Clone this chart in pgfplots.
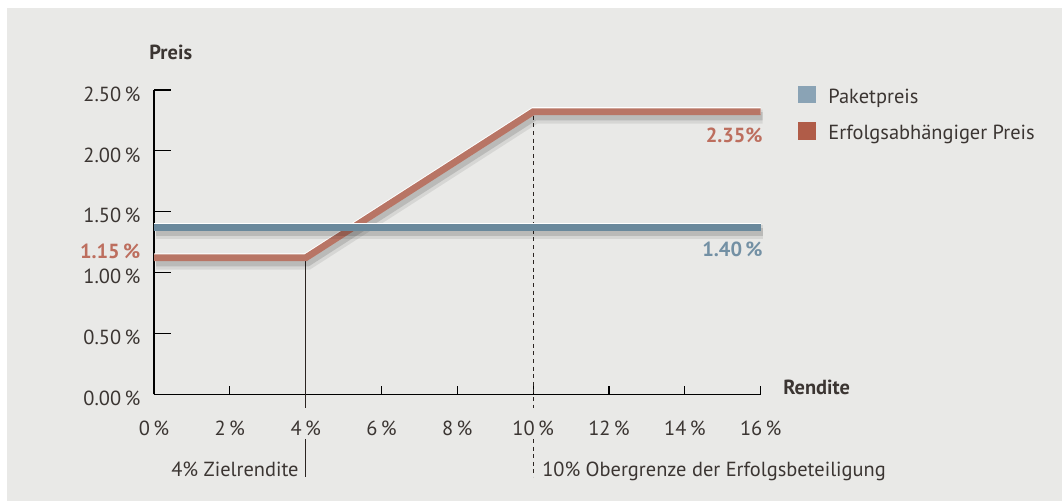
\documentclass[border=0pt]{standalone}
\usepackage{fontspec}
\setmainfont{PT Sans}
\usepackage{pgfplots}
\pgfplotsset{compat=1.18}
\definecolor{panel}{HTML}{E9E9E7}
\definecolor{bluel}{HTML}{6A899C}
\definecolor{redl}{HTML}{B87565}
\definecolor{bluelg}{HTML}{8AA3B5}
\definecolor{redlg}{HTML}{B05C48}
\definecolor{txt}{HTML}{3B3532}
\definecolor{redtxt}{HTML}{BD6E5E}
\definecolor{bluetxt}{HTML}{7390A4}
\definecolor{vline}{HTML}{2B2421}
\newcommand{\fs}{\fontsize{10.2}{12}\selectfont}
\begin{document}
\begin{tikzpicture}[font=\fs]
\path[use as bounding box] (-77pt,-53.35pt) rectangle (454.5pt,197.15pt);
\fill[panel] (-73.5pt,-53.35pt) rectangle (454pt,193.15pt);
\begin{axis}[
  at={(0,0)}, anchor=south west,
  scale only axis, width=303.35pt, height=152.15pt,
  xmin=0, xmax=16, ymin=0, ymax=2.5,
  axis x line=bottom, axis y line=left,
  axis line style={-, line width=0.6pt, black},
  tick align=inside,
  xtick={0,2,4,6,8,10,12,14,16},
  ytick={0,0.5,1,1.5,2,2.5},
  xticklabels={{0\,\%},{2\,\%},{4\,\%},{6\,\%},{8\,\%},{10\,\%},{12\,\%},{14\,\%},{16\,\%}},
  yticklabels={{0.00\,\%},{0.50\,\%},{1.00\,\%},{1.50\,\%},{2.00\,\%},{2.50\,\%}},
  xtick style={line width=0.6pt, black, /pgfplots/major tick length=4pt},
  ytick style={line width=0.6pt, black, /pgfplots/major tick length=8.5pt},
  xticklabel style={anchor=base, yshift=-20.4pt, text=txt, inner sep=0pt},
  yticklabel style={anchor=base east, xshift=-6.65pt, yshift=-5.6pt, text=txt, inner sep=0pt},
  clip=false,
]
% reference lines
\draw[vline, line width=0.6pt] (axis cs:4,1.15) -- ([yshift=-6.85pt]axis cs:4,0);
\draw[vline, line width=0.6pt] ([yshift=-22.35pt]axis cs:4,0) -- ([yshift=-41.35pt]axis cs:4,0);
\draw[vline, line width=0.6pt, dash pattern=on 2pt off 1.8pt] (axis cs:10,2.35) -- ([yshift=-6.85pt]axis cs:10,0);
\draw[vline, line width=0.6pt, dash pattern=on 2pt off 1.8pt] ([yshift=-22.35pt]axis cs:10,0) -- ([yshift=-41.35pt]axis cs:10,0);
% Erfolgsabhaengiger Preis
\addplot[black, opacity=0.08, line width=7pt, yshift=-4.2pt, xshift=1pt] coordinates {(0,1.15) (4,1.15) (10,2.35) (16,2.35)};
\addplot[black, opacity=0.13, line width=4pt, yshift=-4pt, xshift=1pt] coordinates {(0,1.15) (4,1.15) (10,2.35) (16,2.35)};
\addplot[white, line width=3.4pt, yshift=-1.2pt] coordinates {(0,1.15) (4,1.15) (10,2.35) (16,2.35)};
\addplot[redl, line width=3.4pt, yshift=-1.75pt] coordinates {(0,1.15) (4,1.15) (10,2.35) (16,2.35)};
% Paketpreis
\addplot[black, opacity=0.08, line width=7pt, yshift=-4.2pt, xshift=1pt] coordinates {(0,1.40) (16,1.40)};
\addplot[black, opacity=0.13, line width=4pt, yshift=-4pt, xshift=1pt] coordinates {(0,1.40) (16,1.40)};
\addplot[white, line width=3.4pt, yshift=-1.2pt] coordinates {(0,1.40) (16,1.40)};
\addplot[bluel, line width=3.4pt, yshift=-1.75pt] coordinates {(0,1.40) (16,1.40)};
% annotations
\node[anchor=base east, inner sep=0pt, text=txt] at ([xshift=-3.35pt,yshift=-41.2pt]axis cs:4,0) {4\% Zielrendite};
\node[anchor=base west, inner sep=0pt, text=txt] at ([xshift=4.35pt,yshift=-41.2pt]axis cs:10,0) {10\% Obergrenze der Erfolgsbeteiligung};
\end{axis}
\node[anchor=base west, inner sep=0pt, text=txt, font=\fs\bfseries] at (314.5pt,-0.35pt) {Rendite};
\node[anchor=base west, inner sep=0pt, text=txt, font=\fs\bfseries] at (-2.5pt,167.15pt) {Preis};
\node[anchor=base east, inner sep=0pt, text=redtxt, font=\fs\bfseries] at (304.5pt,125.8pt) {2.35\%};
\node[anchor=base east, inner sep=0pt, text=bluetxt, font=\fs\bfseries] at (304.5pt,68.8pt) {1.40\,\%};
\node[anchor=base east, inner sep=0pt, text=redtxt, font=\fs\bfseries] at (-6.65pt,68.0pt) {1.15\,\%};
% legend
\fill[bluelg] (322.15pt,145.8pt) rectangle (331pt,154.3pt);
\node[anchor=base west, inner sep=0pt, text=txt] at (337pt,145.5pt) {Paketpreis};
\fill[redlg] (322.15pt,127.15pt) rectangle (331pt,136pt);
\node[anchor=base west, inner sep=0pt, text=txt] at (337pt,127.15pt) {Erfolgsabhängiger Preis};
\end{tikzpicture}
\end{document}
